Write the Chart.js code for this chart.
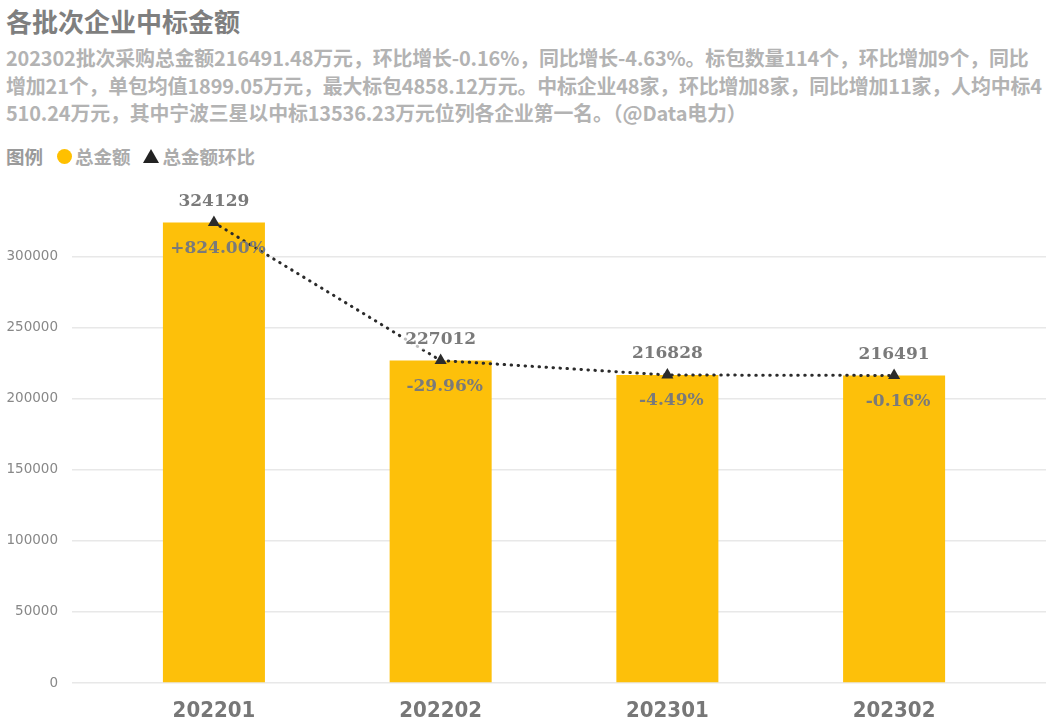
<!DOCTYPE html>
<html>
<head>
<meta charset="utf-8">
<script src="https://cdn.jsdelivr.net/npm/chart.js@4"></script>
<style>
  body { margin: 0; background: #fff; width: 1053px; height: 725px; overflow: hidden; position: relative; }
  #title { position: absolute; left: 6px; top: 2px; font: bold 26px "Noto Sans CJK SC", sans-serif; color: #7f7f7f; white-space: nowrap; }
  #sub { position: absolute; left: 6px; top: 44px; font: bold 19.9px "Noto Sans CJK SC", sans-serif; color: #b3b3b3; line-height: 27.5px; white-space: nowrap; letter-spacing: -0.12px; }
  #legend { position: absolute; left: 6px; top: 143px; font: bold 18.5px "Noto Sans CJK SC", sans-serif; color: #ababab; white-space: nowrap; display: flex; align-items: center; }
  #legend .lt { color: #9a9a9a; margin-right: 14px; }
  #legend .dot { width: 15px; height: 15px; border-radius: 50%; background: #FFC000; display: inline-block; margin-right: 3px; }
  #legend .tri { width: 0; height: 0; border-left: 8px solid transparent; border-right: 8px solid transparent; border-bottom: 14px solid #222; display: inline-block; margin: 0 4px 0 12px; }
  #chartWrap { position: absolute; left: 0; top: 170px; }
</style>
</head>
<body>
<div id="title">各批次企业中标金额</div>
<div id="sub">202302批次采购总金额216491.48万元，环比增长-0.16%，同比增长-4.63%。标包数量114个，环比增加9个，同比<br>增加21个，单包均值1899.05万元，最大标包4858.12万元。中标企业48家，环比增加8家，同比增加11家，人均中标4<br>510.24万元，其中宁波三星以中标13536.23万元位列各企业第一名。（@Data电力）</div>
<div id="legend"><span class="lt">图例</span><span class="dot"></span>总金额<span class="tri"></span>总金额环比</div>
<div id="chartWrap"><canvas id="amountChart" width="1053" height="555"></canvas></div>

<script>
// DATA
const batches = ["202201", "202202", "202301", "202302"];
const totalAmount = [324129, 227012, 216828, 216491];   // 总金额 (万元)
const momChange = [824.00, -29.96, -4.49, -0.16];       // 总金额环比 (%)
const yTicks = [0, 50000, 100000, 150000, 200000, 250000, 300000];

const BAR_COLOR = "#FDC00A";
const LABEL_COLOR = "#7a7a7a";

//draws value above the bar and the % change below its top
const labelPlugin = {
  id: "barLabels",
  afterDatasetsDraw(chart) {
    const c = chart.ctx;
    const bars = chart.getDatasetMeta(0).data;
    c.save();
    c.font = "bold 17px 'DejaVu Serif', serif";
    c.textAlign = "center";
    c.textBaseline = "middle";
    bars.forEach((bar, i) => {
      const txt = String(totalAmount[i]);
      const w = c.measureText(txt).width;
      c.fillStyle = "rgba(255,255,255,0.7)";
      c.fillRect(bar.x - w / 2 - 2, bar.y - 31, w + 4, 20);
      c.fillStyle = LABEL_COLOR;
      c.fillText(txt, bar.x, bar.y - 21);

      const p = momChange[i];
      const pct = (p > 0 ? "+" : "") + p.toFixed(2) + "%";
      c.fillText(pct, bar.x + 4, bar.y + 26);
    });
    c.restore();
  },
};

const ctx = document.getElementById("amountChart").getContext("2d");

const amountChart = new Chart(ctx, {
  data: {
    datasets: [
      {
        type: "bar",
        label: "总金额",
        data: totalAmount.map((v, i) => ({ x: i, y: v })),
        backgroundColor: BAR_COLOR,
        categoryPercentage: 1,
        barPercentage: 0.45,
        order: 2,
      },
      {
        type: "line",
        label: "总金额环比",
        data: totalAmount.map((v, i) => ({ x: i, y: v })),
        borderColor: "#2b2b2b",
        borderWidth: 3,
        borderDash: [0.5, 6.5],
        borderCapStyle: "round",
        pointStyle: "triangle",
        pointRadius: 7,
        pointBackgroundColor: "#2b2b2b",
        pointBorderColor: "#2b2b2b",
        pointBorderWidth: 0,
        order: 1,
      },
    ],
  },
  options: {
    responsive: false,
    animation: false,
    layout: { padding: { top: 30, right: 6, left: 0, bottom: 0 } },
    plugins: { legend: { display: false }, tooltip: { enabled: false } },
    scales: {
      x: {
        type: "linear",
        offset: false,
        min: -0.626,
        max: 3.67,
        grid: { display: false },
        border: { display: false },
        afterBuildTicks: (s) => { s.ticks = batches.map((b, i) => ({ value: i })); },
        ticks: {
          padding: 7,
          color: "#777",
          font: { family: "'Liberation Sans Narrow', 'DejaVu Sans Condensed', sans-serif", size: 22, weight: "bold" },
          callback: (v) => batches[v],
        },
        afterFit: (s) => { s.height = 42; },
      },
      y: {
        min: 0,
        max: 340000,
        afterBuildTicks: (s) => { s.ticks = yTicks.map((v) => ({ value: v })); },
        grid: { color: "#e8e8e8", lineWidth: 1.5, drawTicks: false },
        border: { display: false },
        ticks: {
          padding: 14,
          color: "#888",
          font: { family: "'DejaVu Sans', sans-serif", size: 13.5 },
          callback: (v) => String(v),
        },
        afterFit: (s) => { s.width = 72; },
      },
    },
  },
  plugins: [labelPlugin],
});
</script>
</body>
</html>
